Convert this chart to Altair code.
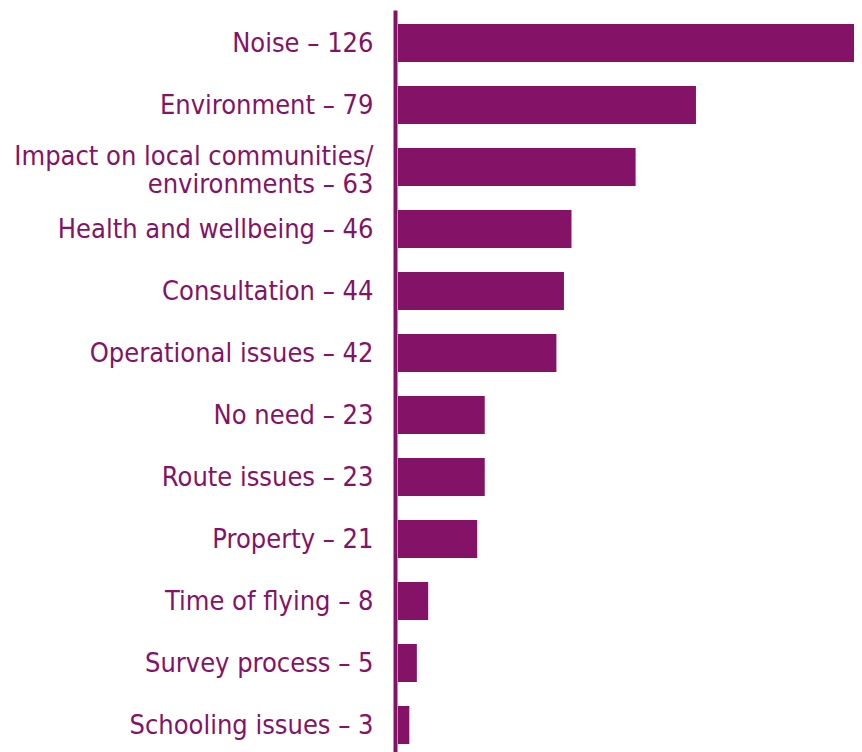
import altair as alt
import pandas as pd

PURPLE = "#841266"

categories = [
    "Noise",
    "Environment",
    "Impact on local communities/|environments",
    "Health and wellbeing",
    "Consultation",
    "Operational issues",
    "No need",
    "Route issues",
    "Property",
    "Time of flying",
    "Survey process",
    "Schooling issues",
]
counts = [126, 79, 63, 46, 44, 42, 23, 23, 21, 8, 5, 3]

labels = [f"{c} – {n}" for c, n in zip(categories, counts)]
df = pd.DataFrame({"label": labels, "count": counts})

chart = (
    alt.Chart(df)
    .mark_bar(color=PURPLE, clip=True)
    .encode(
        x=alt.X(
            "count:Q",
            scale=alt.Scale(domain=[0, 120.9], nice=False, zero=True),
            axis=None,
        ),
        y=alt.Y(
            "label:N",
            sort=labels,
            scale=alt.Scale(paddingInner=0.387, paddingOuter=0.2258),
            axis=alt.Axis(
                title=None,
                domainColor=PURPLE,
                domainWidth=4,
                ticks=False,
                tickSize=0,
                offset=3,
                labelPadding=22,
                labelFont="DejaVu Sans Condensed",
                labelFontSize=27,
                labelColor=PURPLE,
                labelLimit=600,
                labelLineHeight=28,
                labelOffset={
                    "condition": {"test": "indexof(datum.label, '|') >= 0", "value": -10},
                    "value": 1,
                },
                labelExpr="split(datum.label, '|')",
            ),
        ),
    )
    .properties(
        width=456,
        height=748,
        autosize=alt.AutoSizeParams(type="none"),
        padding={"left": 390, "top": 2, "right": 0, "bottom": 0},
    )
    .configure_view(stroke=None)
)

chart.save("out.html", embed_options={"renderer": "svg", "actions": False})
